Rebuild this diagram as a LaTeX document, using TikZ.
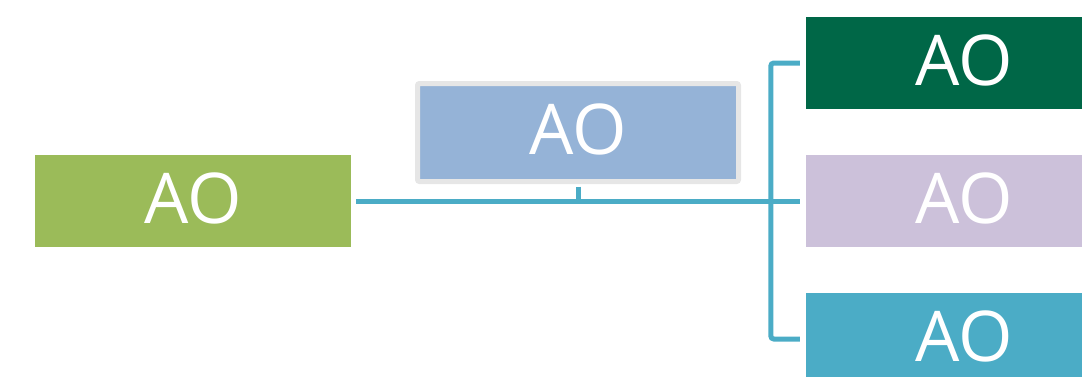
\documentclass[tikz,border=0pt]{standalone}
\usepackage{fontspec}
\newfontfamily\aofont{Open Sans}
\definecolor{aogreen}{HTML}{9BBB59}
\definecolor{aoblue}{HTML}{95B3D7}
\definecolor{aodark}{HTML}{006747}
\definecolor{aolilac}{HTML}{CCC1DA}
\definecolor{aoteal}{HTML}{4BACC6}
\definecolor{aogray}{HTML}{E6E6E6}
\tikzset{
  aobox/.style={rectangle, inner sep=0pt, minimum width=316pt, minimum height=92pt,
    text depth=6pt, text=white, font=\aofont\fontsize{70}{80}\selectfont},
  link/.style={draw=aoteal, line width=5pt}
}
\begin{document}
\begin{tikzpicture}[x=1pt,y=1pt]
		\useasboundingbox (0,0) rectangle (1082,-376);

		\node[aobox, fill=aogreen] (ao) at (193,-201) {AO};
		\node[aobox, fill=aoblue, draw=aogray, line width=5pt, rounded corners=2pt,
			minimum width=321pt, minimum height=98pt] (mid) at (578,-132.5) {AO};

		\node[aobox, fill=aodark] (r1) at (964,-63) {AO};
		\node[aobox, fill=aolilac] (r2) at (964,-201) {AO};
		\node[aobox, fill=aoteal] (r3) at (964,-339) {AO};

		\coordinate (k1) at ([xshift=-6pt]r1.west);
		\coordinate (k3) at ([xshift=-6pt]r3.west);

		\draw[link, shorten <=5pt, shorten >=6pt] (ao.east) -- (r2.west);
		\draw[link, shorten <=2.5pt] (mid.south) -- (mid.south |- ao.east);
		\draw[link, rounded corners=3pt] (k1) -- ++(-29,0) |- (k3);
	\end{tikzpicture}
\end{document}
